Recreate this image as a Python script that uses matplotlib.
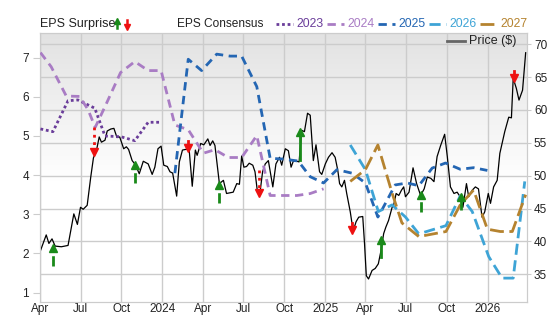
#!/usr/bin/env python

import numpy as np
import matplotlib
matplotlib.use('Agg')
import matplotlib.pyplot as plt
from matplotlib.lines import Line2D

plt.rcParams['font.family'] = ['Liberation Sans', 'DejaVu Sans']

# price, right axis
price_dates = [
  '2023-04-02','2023-04-15','2023-04-21','2023-04-28','2023-05-05','2023-05-19','2023-06-03',
  '2023-06-16','2023-06-24','2023-07-01','2023-07-07','2023-07-16','2023-07-24','2023-07-30',
  '2023-08-06','2023-08-12','2023-08-17','2023-08-25','2023-08-30','2023-09-07','2023-09-14',
  '2023-09-21','2023-09-27','2023-10-06','2023-10-12','2023-10-17','2023-10-25','2023-11-01',
  '2023-11-10','2023-11-19','2023-11-30','2023-12-09','2023-12-15','2023-12-22','2023-12-29',
  '2024-01-04','2024-01-12','2024-01-18','2024-01-24','2024-02-02','2024-02-08','2024-02-15',
  '2024-02-22','2024-03-01','2024-03-08','2024-03-15','2024-03-19','2024-03-27','2024-04-03',
  '2024-04-12','2024-04-17','2024-04-23','2024-04-28','2024-05-08','2024-05-17','2024-05-24',
  '2024-06-01','2024-06-08','2024-06-16','2024-06-22','2024-06-27','2024-07-02','2024-07-08',
  '2024-07-14','2024-07-22','2024-07-27','2024-08-01','2024-08-07','2024-08-13','2024-08-19',
  '2024-08-26','2024-09-05','2024-09-12','2024-09-20','2024-09-25','2024-10-03','2024-10-10',
  '2024-10-16','2024-10-21','2024-10-29','2024-11-03','2024-11-09','2024-11-15','2024-11-22',
  '2024-11-28','2024-12-05','2024-12-11','2024-12-19','2024-12-24','2025-01-01','2025-01-08',
  '2025-01-16','2025-01-23','2025-01-29','2025-02-02','2025-02-07','2025-02-13','2025-02-18',
  '2025-02-26','2025-03-02','2025-03-05','2025-03-11','2025-03-17','2025-03-26','2025-03-30',
  '2025-04-03','2025-04-08','2025-04-16','2025-04-23','2025-04-30','2025-05-06','2025-05-12',
  '2025-05-17','2025-05-23','2025-05-31','2025-06-04','2025-06-09','2025-06-15','2025-06-21',
  '2025-06-26','2025-06-30','2025-07-08','2025-07-17','2025-07-25','2025-08-03','2025-08-11',
  '2025-08-18','2025-08-26','2025-09-02','2025-09-09','2025-09-17','2025-09-26','2025-10-02',
  '2025-10-09','2025-10-17','2025-10-24','2025-10-31','2025-11-06','2025-11-14','2025-11-19',
  '2025-11-27','2025-12-04','2025-12-11','2025-12-19','2025-12-25','2026-01-02','2026-01-07',
  '2026-01-14','2026-01-22','2026-01-28','2026-02-02','2026-02-08','2026-02-17','2026-02-23',
  '2026-02-27','2026-03-06','2026-03-12','2026-03-20','2026-03-27']
price = [
  38.6, 41.0, 39.7, 40.4, 39.3, 39.2, 39.4,
  44.2, 42.6, 45.2, 44.9, 45.5, 49.8, 52.7,
  53.9, 55.9, 55.1, 55.4, 56.8, 57.1, 57.2,
  55.8, 55.9, 54.1, 54.4, 54.0, 52.3, 51.7,
  50.3, 52.2, 51.8, 50.2, 51.3, 54.1, 54.5,
  51.6, 51.4, 50.6, 50.4, 46.9, 52.1, 53.9,
  54.0, 54.0, 48.4, 53.9, 53.1, 54.9, 54.7,
  55.6, 54.6, 55.3, 54.6, 48.8, 49.3, 47.3,
  47.4, 47.5, 48.8, 48.7, 53.0, 51.3, 51.4,
  51.9, 51.6, 50.6, 47.8, 47.3, 50.6, 51.8,
  52.3, 48.3, 51.8, 52.8, 51.6, 54.1, 53.8,
  51.3, 52.2, 52.2, 52.1, 56.9, 56.7, 59.5,
  59.2, 52.3, 54.7, 50.6, 50.2, 51.8, 52.8,
  53.5, 52.8, 50.8, 48.8, 48.3, 49.3, 47.3,
  44.5, 42.7, 41.7, 43.0, 43.7, 43.8, 39.7,
  34.8, 34.3, 35.6, 35.9, 36.6, 38.6, 41.2,
  42.2, 43.2, 45.2, 45.7, 47.3, 47.0, 47.8,
  48.3, 46.8, 47.5, 51.2, 48.8, 47.0, 48.0,
  49.8, 49.6, 49.1, 52.9, 54.6, 56.3, 52.9,
  48.3, 47.3, 47.5, 46.8, 45.2, 48.8, 46.8,
  47.8, 48.3, 48.0, 43.7, 44.5, 47.3, 45.8,
  48.3, 49.3, 53.4, 54.9, 56.7, 58.9, 58.8,
  64.8, 63.3, 61.5, 63.0, 68.7]

# EPS consensus per fiscal year, left axis
fy2023_dates = ['2023-04-02','2023-04-30','2023-06-03','2023-06-25','2023-08-02',
                '2023-08-25','2023-09-30','2023-10-31','2023-11-30','2023-12-29']
fy2023_eps = [5.18, 5.11, 5.90, 5.92, 5.71, 5.00, 4.98, 4.88, 5.35, 5.35]

fy2024_dates = ['2023-04-02','2023-04-26','2023-05-30','2023-06-29','2023-07-18','2023-08-03',
                '2023-08-25','2023-09-29','2023-10-31','2023-11-30','2023-12-29','2024-01-29',
                '2024-02-28','2024-04-02','2024-04-28','2024-05-28','2024-06-27','2024-07-31',
                '2024-08-30','2024-09-29','2024-10-29','2024-11-28','2024-12-28']
fy2024_eps = [7.13, 6.77, 6.02, 6.01, 5.67, 5.22, 5.75, 6.62, 6.90, 6.67, 6.67, 5.28,
              5.16, 4.56, 4.65, 4.45, 4.45, 5.01, 3.48, 3.48, 3.48, 3.53, 3.65]

fy2025_dates = ['2024-01-29','2024-02-28','2024-03-29','2024-05-02','2024-06-01','2024-06-27',
                '2024-07-31','2024-08-30','2024-09-29','2024-11-01','2024-11-28','2024-12-28',
                '2025-01-27','2025-03-02','2025-04-01','2025-04-29','2025-05-08','2025-06-07',
                '2025-07-04','2025-07-30','2025-08-29','2025-09-28','2025-10-31','2025-11-30',
                '2025-12-31']
fy2025_eps = [4.05, 6.96, 6.67, 7.09, 7.04, 7.04, 6.26, 4.43, 4.41, 4.36, 3.96, 3.80,
              4.14, 4.05, 3.80, 2.93, 3.11, 3.75, 3.80, 3.73, 4.18, 4.31, 4.15, 4.19, 4.12]

fy2026_dates = ['2025-02-26','2025-04-01','2025-04-30','2025-05-31','2025-06-30','2025-07-30',
                '2025-09-29','2025-10-31','2025-11-27','2026-01-03','2026-02-02','2026-02-27',
                '2026-03-25']
fy2026_eps = [4.77, 4.14, 3.07, 3.24, 2.93, 2.50, 2.71, 3.47, 3.07, 1.92, 1.37, 1.37, 3.84]

fy2027_dates = ['2025-02-26','2025-04-01','2025-04-29','2025-05-31','2025-06-22','2025-07-30',
                '2025-09-29','2025-10-31','2025-11-30','2025-12-31','2026-01-29','2026-02-25',
                '2026-03-27']
fy2027_eps = [3.84, 4.14, 4.77, 3.54, 2.78, 2.43, 2.56, 3.24, 3.62, 2.62, 2.56, 2.56, 3.50]

# EPS surprises: date, consensus, actual, shaft style
surprise_dates = ['2023-04-30','2023-07-31','2023-11-01','2024-02-27','2024-05-06','2024-08-05',
                  '2024-11-04','2025-03-02','2025-05-06','2025-08-03','2025-11-02','2026-02-28']
surprise_est = [1.67, 5.24, 3.80, 4.86, 3.29, 4.13, 4.39, 2.78, 1.92, 3.07, 3.11, 6.67]
surprise_act = [2.15, 4.60, 4.26, 4.69, 3.75, 3.54, 5.11, 2.60, 2.35, 3.50, 3.45, 6.47]
surprise_ls = ['--', ':', '--', '-', '--', ':', '-', '-', '-', '--', '--', '-']

quarter_ticks = ['2023-04-01','2023-07-01','2023-10-01','2024-01-01','2024-04-01','2024-07-01',
                 '2024-10-01','2025-01-01','2025-04-01','2025-07-01','2025-10-01','2026-01-01']
quarter_labels = ['Apr','Jul','Oct','2024','Apr','Jul','Oct','2025','Apr','Jul','Oct','2026']

years = ['2023', '2024', '2025', '2026', '2027']
year_colors = ['#6a3d9a', '#a97cc4', '#2466b3', '#3ea4d6', '#b5832f']
year_ls = [(0, (1, 1)), (0, (3, 2)), (0, (3, 2)), (0, (4, 2)), (0, (5, 2))]

GRID = '#cccccc'
TXT = '#222222'
UP = '#1a8a1a'
DOWN = '#ee1111'


def d(lst):
  return np.array(lst, dtype='datetime64[D]')


def fx(px):
  return px / 556


def fy(py):
  return 1 - py / 315


def main():
  fig = plt.figure(figsize=(5.56, 3.15), dpi=100)
  ax2 = fig.add_axes([fx(40), fy(302), 487/556, 269/315])
  ax = ax2.twinx()
  # eps axis on top, price axis below with background and grid
  ax.yaxis.tick_left()
  ax2.yaxis.tick_right()
  ax.set_zorder(2)
  ax2.set_zorder(1)
  ax.patch.set_visible(False)

  grad = np.linspace(0, 1, 256).reshape(-1, 1)
  grad = np.clip((grad - 0.45) / 0.55, 0, 1)
  ax2.imshow(grad, extent=[0, 1, 0, 1], transform=ax2.transAxes, origin='lower',
             cmap=matplotlib.colors.LinearSegmentedColormap.from_list('bg', ['#ffffff', '#e2e2e2']),
             aspect='auto', zorder=0)

  ax2.set_xlim(np.datetime64('2023-04-01'), np.datetime64('2026-03-30'))
  ax2.set_ylim(30.8, 71.7)
  ax.set_ylim(0.76, 7.63)

  for t in d(quarter_ticks):
    ax2.axvline(t, color=GRID, lw=1, zorder=1)
  for p in range(35, 71, 5):
    ax2.axhline(p, color=GRID, lw=1, zorder=1)

  ax2.plot(d(price_dates), price, color='black', lw=0.9, zorder=3)

  series = [(fy2023_dates, fy2023_eps), (fy2024_dates, fy2024_eps), (fy2025_dates, fy2025_eps),
            (fy2026_dates, fy2026_eps), (fy2027_dates, fy2027_eps)]
  for (xs, ys), c, ls in zip(series, year_colors, year_ls):
    ax.plot(d(xs), ys, color=c, lw=2, linestyle=ls, zorder=3)

  for dt, e, a, ls in zip(d(surprise_dates), surprise_est, surprise_act, surprise_ls):
    c = UP if a > e else DOWN
    ax.plot([dt, dt], [e, a], color=c, lw=2, linestyle=ls, zorder=4)
    ax.plot([dt], [a], marker='^' if a > e else 'v', color=c, markersize=6, zorder=5)

  ax2.set_yticks(range(35, 71, 5))
  ax.set_yticks(range(1, 8))
  ax2.set_xticks(d(quarter_ticks))
  ax2.set_xticklabels(quarter_labels)
  ax2.tick_params(axis='x', length=0, pad=0.5, labelsize=8.5, labelcolor=TXT)
  ax2.tick_params(axis='y', length=3, color=GRID, pad=2, labelsize=8.5, labelcolor=TXT)
  ax.tick_params(axis='y', length=5, color=GRID, pad=3, labelsize=8.5, labelcolor=TXT)
  for a in (ax, ax2):
    for s in a.spines.values():
      s.set_color(GRID)

  # price legend inside plot
  fig.add_artist(Line2D([fx(447), fx(465)], [fy(41)]*2, color='#666666', lw=2, zorder=5))
  fig.text(fx(469), fy(41), 'Price ($)', fontsize=9, color=TXT, va='center', zorder=5)

  # top legend
  ly = fy(24)
  fig.text(fx(40), ly, 'EPS Surprise', fontsize=9, color=TXT, va='center')
  fig.add_artist(Line2D([fx(117)]*2, [fy(28), fy(21)], color=UP, lw=1.8))
  fig.add_artist(Line2D([fx(117)], [fy(21)], color=UP, marker='^', markersize=5))
  fig.add_artist(Line2D([fx(127)]*2, [fy(20), fy(27)], color=DOWN, lw=1.8))
  fig.add_artist(Line2D([fx(127)], [fy(27)], color=DOWN, marker='v', markersize=5))
  fig.text(fx(177), ly, 'EPS Consensus', fontsize=8.6, color=TXT, va='center')
  x0 = 276
  for yr, c, ls in zip(years, year_colors, year_ls):
    fig.add_artist(Line2D([fx(x0), fx(x0+17)], [ly]*2, color=c, lw=2, linestyle=ls))
    fig.text(fx(x0+20), ly, yr, fontsize=8.8, color=c, va='center')
    x0 += 51

  fig.savefig('out.png', dpi=100)


if __name__ == "__main__":
  main()
